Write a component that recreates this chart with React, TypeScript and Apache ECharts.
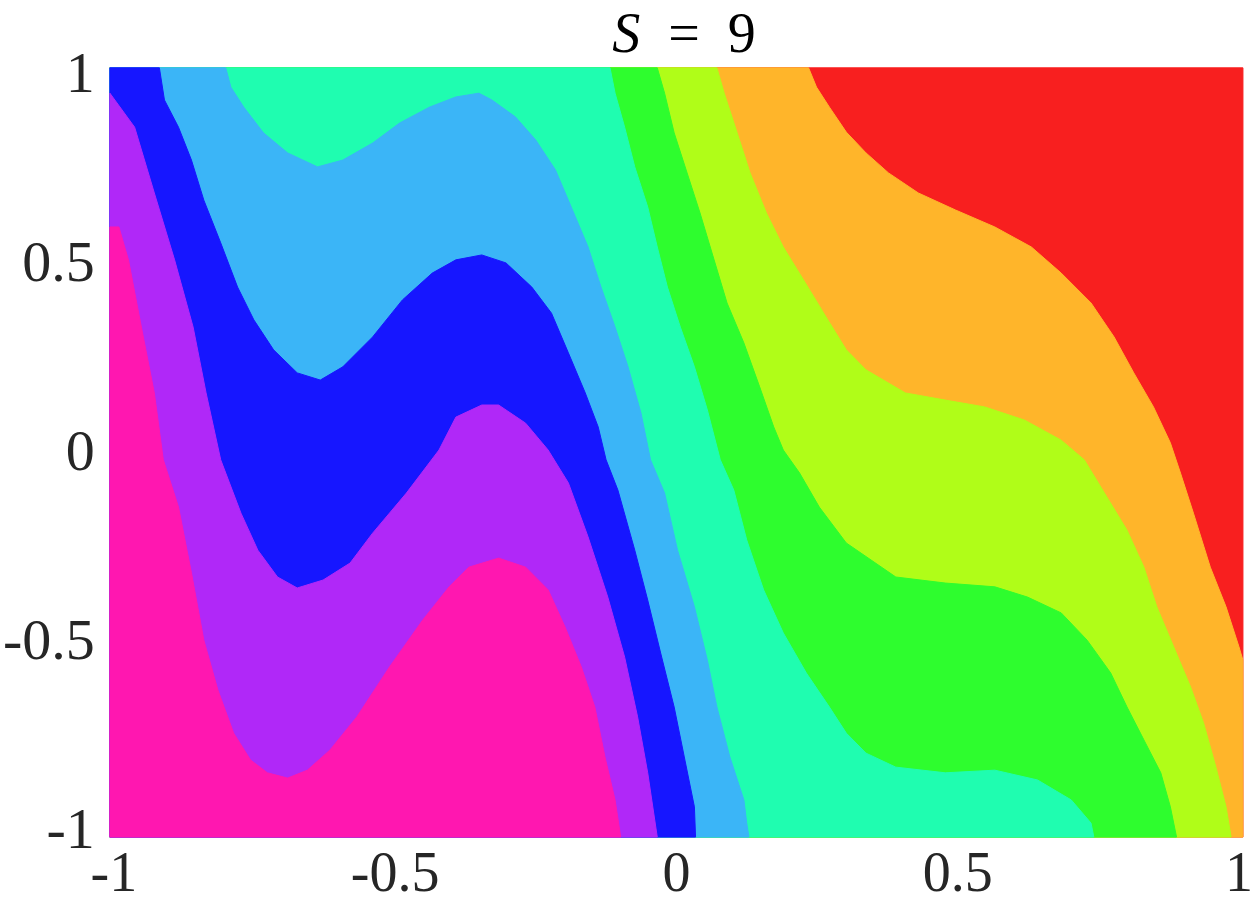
import React, { useEffect, useRef } from "react";
import * as echarts from "echarts";

// Axis tick values
const xTicks = [-1, -0.5, 0, 0.5, 1];
const yTicks = [-1, -0.5, 0, 0.5, 1];

// Outer extent of the point cloud (data units)
const X_LEFT = -1.007;
const X_RIGHT = 1.007;
const Y_TOP = 1.011;
const Y_BOTTOM = -1.024;

// Cluster colours, from cluster 1 (lower-left) to cluster 9 (upper-right)
const clusterColors = [
  "#FF17B0", // 1 pink
  "#B028F8", // 2 purple
  "#1616FF", // 3 blue
  "#3BB5F7", // 4 light blue
  "#1FFDB0", // 5 cyan
  "#2EFD2E", // 6 green
  "#B0FD18", // 7 yellow-green
  "#FFB52A", // 8 orange
  "#F81F1F", // 9 red
];

// Boundaries between consecutive clusters ([x, y])
const border12: number[][] = [
  [-1.007, 0.59], [-0.991, 0.59], [-0.974, 0.503], [-0.951, 0.325], [-0.928, 0.151],
  [-0.912, -0.026], [-0.885, -0.151], [-0.862, -0.325], [-0.84, -0.503], [-0.815, -0.635],
  [-0.787, -0.749], [-0.757, -0.82], [-0.727, -0.854], [-0.691, -0.868], [-0.656, -0.847],
  [-0.616, -0.794], [-0.568, -0.706], [-0.51, -0.574], [-0.451, -0.45], [-0.404, -0.362],
  [-0.369, -0.31], [-0.316, -0.286], [-0.268, -0.31], [-0.228, -0.37], [-0.198, -0.468],
  [-0.169, -0.574], [-0.145, -0.68], [-0.127, -0.812], [-0.109, -0.926], [-0.099, -1.024],
];
const border23: number[][] = [
  [-1.007, 0.944], [-0.963, 0.854], [-0.928, 0.68], [-0.892, 0.503], [-0.859, 0.325],
  [-0.836, 0.151], [-0.81, -0.026], [-0.774, -0.167], [-0.744, -0.265], [-0.709, -0.336],
  [-0.674, -0.365], [-0.628, -0.344], [-0.58, -0.299], [-0.54, -0.22], [-0.48, -0.114],
  [-0.422, 0.0], [-0.392, 0.087], [-0.346, 0.119], [-0.316, 0.119], [-0.268, 0.071],
  [-0.228, 0.0], [-0.192, -0.087], [-0.157, -0.23], [-0.122, -0.389], [-0.092, -0.548],
  [-0.069, -0.706], [-0.051, -0.854], [-0.034, -1.024],
];
const border34: number[][] = [
  [-0.919, 1.011], [-0.91, 0.926], [-0.885, 0.854], [-0.862, 0.767], [-0.84, 0.661],
  [-0.81, 0.548], [-0.78, 0.431], [-0.751, 0.344], [-0.716, 0.265], [-0.674, 0.204],
  [-0.633, 0.185], [-0.593, 0.22], [-0.54, 0.299], [-0.487, 0.397], [-0.434, 0.468],
  [-0.392, 0.503], [-0.346, 0.516], [-0.303, 0.495], [-0.257, 0.431], [-0.222, 0.362],
  [-0.192, 0.257], [-0.162, 0.151], [-0.139, 0.061], [-0.125, -0.026], [-0.104, -0.106],
  [-0.074, -0.265], [-0.051, -0.397], [-0.028, -0.537], [-0.004, -0.68], [0.014, -0.812],
  [0.032, -0.944], [0.034, -1.024],
];
const border45: number[][] = [
  [-0.801, 1.011], [-0.792, 0.96], [-0.769, 0.907], [-0.734, 0.839], [-0.691, 0.786],
  [-0.638, 0.749], [-0.593, 0.767], [-0.54, 0.812], [-0.492, 0.865], [-0.439, 0.907],
  [-0.392, 0.934], [-0.351, 0.944], [-0.328, 0.926], [-0.286, 0.881], [-0.25, 0.82],
  [-0.215, 0.741], [-0.187, 0.643], [-0.157, 0.537], [-0.134, 0.431], [-0.109, 0.325],
  [-0.086, 0.22], [-0.063, 0.098], [-0.046, -0.026], [-0.021, -0.114], [0.002, -0.265],
  [0.032, -0.415], [0.055, -0.556], [0.072, -0.68], [0.095, -0.812], [0.12, -0.926],
  [0.125, -0.987], [0.129, -1.024],
];
const border56: number[][] = [
  [-0.118, 1.011], [-0.109, 0.944], [-0.092, 0.854], [-0.074, 0.749], [-0.051, 0.643],
  [-0.034, 0.537], [-0.016, 0.431], [0.007, 0.325], [0.032, 0.22], [0.055, 0.106],
  [0.078, -0.026], [0.102, -0.106], [0.125, -0.238], [0.155, -0.37], [0.19, -0.484],
  [0.231, -0.59], [0.272, -0.68], [0.302, -0.749], [0.337, -0.802], [0.39, -0.839],
  [0.478, -0.854], [0.566, -0.847], [0.642, -0.873], [0.702, -0.926], [0.737, -0.987],
  [0.742, -1.024],
];
const border67: number[][] = [
  [-0.034, 1.011], [-0.021, 0.944], [-0.004, 0.839], [0.019, 0.733], [0.042, 0.627],
  [0.067, 0.503], [0.09, 0.389], [0.12, 0.283], [0.148, 0.167], [0.173, 0.061],
  [0.19, 0.0], [0.219, -0.061], [0.254, -0.151], [0.302, -0.246], [0.39, -0.336],
  [0.478, -0.352], [0.566, -0.362], [0.624, -0.389], [0.684, -0.431], [0.73, -0.503],
  [0.772, -0.59], [0.801, -0.68], [0.831, -0.767], [0.861, -0.854], [0.878, -0.944],
  [0.889, -1.024],
];
const border78: number[][] = [
  [0.072, 1.011], [0.085, 0.944], [0.108, 0.839], [0.131, 0.733], [0.16, 0.627],
  [0.19, 0.537], [0.226, 0.45], [0.266, 0.352], [0.302, 0.265], [0.337, 0.212],
  [0.407, 0.151], [0.478, 0.132], [0.548, 0.114], [0.619, 0.079], [0.684, 0.026],
  [0.725, -0.026], [0.765, -0.124], [0.801, -0.212], [0.831, -0.31], [0.854, -0.415],
  [0.884, -0.521], [0.914, -0.627], [0.937, -0.722], [0.959, -0.839], [0.977, -0.944],
  [0.986, -1.024],
];
const border89: number[][] = [
  [0.235, 1.011], [0.249, 0.96], [0.272, 0.907], [0.302, 0.841], [0.337, 0.786],
  [0.377, 0.733], [0.43, 0.68], [0.496, 0.635], [0.566, 0.59], [0.631, 0.537],
  [0.684, 0.468], [0.737, 0.389], [0.778, 0.299], [0.813, 0.204], [0.848, 0.114],
  [0.878, 0.019], [0.896, -0.061], [0.919, -0.167], [0.949, -0.31], [0.977, -0.415],
  [1.0, -0.521], [1.007, -0.556],
];

// Boundary below/left of which each cluster (and all lower ones) lies; cluster 9 is the whole square
const borders: (number[][] | null)[] = [
  border12, border23, border34, border45, border56, border67, border78, border89, null,
];

function lowerLeftPolygon(curve: number[][] | null): number[][] {
  if (!curve) {
    return [[X_LEFT, Y_TOP], [X_RIGHT, Y_TOP], [X_RIGHT, Y_BOTTOM], [X_LEFT, Y_BOTTOM]];
  }
  const pts = curve.map((p) => [p[0], p[1]]);
  const first = curve[0];
  const last = curve[curve.length - 1];
  if (last[0] >= X_RIGHT - 1e-9) pts.push([X_RIGHT, Y_BOTTOM]);
  pts.push([X_LEFT, Y_BOTTOM]);
  if (first[1] >= Y_TOP - 1e-9) pts.push([X_LEFT, Y_TOP]);
  return pts;
}

export default function App() {
  const ref = useRef<HTMLDivElement>(null);
  useEffect(() => {
    if (!ref.current) return;
    const chart = echarts.init(ref.current, undefined, { renderer: "svg" });
    // paint from cluster 9 down to cluster 1, each covering the area below-left of its upper border
    const order = [8, 7, 6, 5, 4, 3, 2, 1, 0];
    const labelFont = "'Liberation Serif', serif";
    chart.setOption({
      animation: false,
      backgroundColor: "#ffffff",
      grid: { left: 112, right: 10, top: 72, bottom: 73, containLabel: false },
      title: {
        text: "{i|S}\u2002=\u20029",
        left: 679,
        top: 0,
        textAlign: "center",
        textStyle: {
          fontFamily: labelFont,
          fontSize: 56,
          fontWeight: "normal",
          color: "#000",
          rich: {
            i: { fontStyle: "italic", fontFamily: labelFont, fontSize: 56, color: "#000" },
          },
        },
      },
      xAxis: {
        type: "value",
        min: xTicks[0],
        max: xTicks[xTicks.length - 1],
        interval: 0.5,
        axisLine: { show: false },
        axisTick: { show: false },
        splitLine: { show: false },
        axisLabel: {
          color: "#262626",
          fontFamily: labelFont,
          fontSize: 56,
          lineHeight: 56,
          margin: 16,
          formatter: (v: number) => String(v),
        },
      },
      yAxis: {
        type: "value",
        min: yTicks[0],
        max: yTicks[yTicks.length - 1],
        interval: 0.5,
        axisLine: { show: false },
        axisTick: { show: false },
        splitLine: { show: false },
        axisLabel: {
          color: "#262626",
          fontFamily: labelFont,
          fontSize: 58,
          margin: 19,
          formatter: (v: number) => String(v),
        },
      },
      series: [
        {
          type: "custom",
          clip: false,
          data: order.map((i) => [i]),
          renderItem: (params: any, api: any) => {
            const idx = api.value(0) as number;
            const poly = lowerLeftPolygon(borders[idx]);
            const points = poly.map((p) => api.coord(p));
            return {
              type: "polygon",
              shape: { points },
              style: { fill: clusterColors[idx], stroke: clusterColors[idx], lineWidth: 1 },
            };
          },
        },
      ],
    });
    return () => chart.dispose();
  }, []);
  return (
    <div
      ref={ref}
      style={{ position: "fixed", left: 0, top: 0, width: 1256, height: 901 }}
    />
  );
}
